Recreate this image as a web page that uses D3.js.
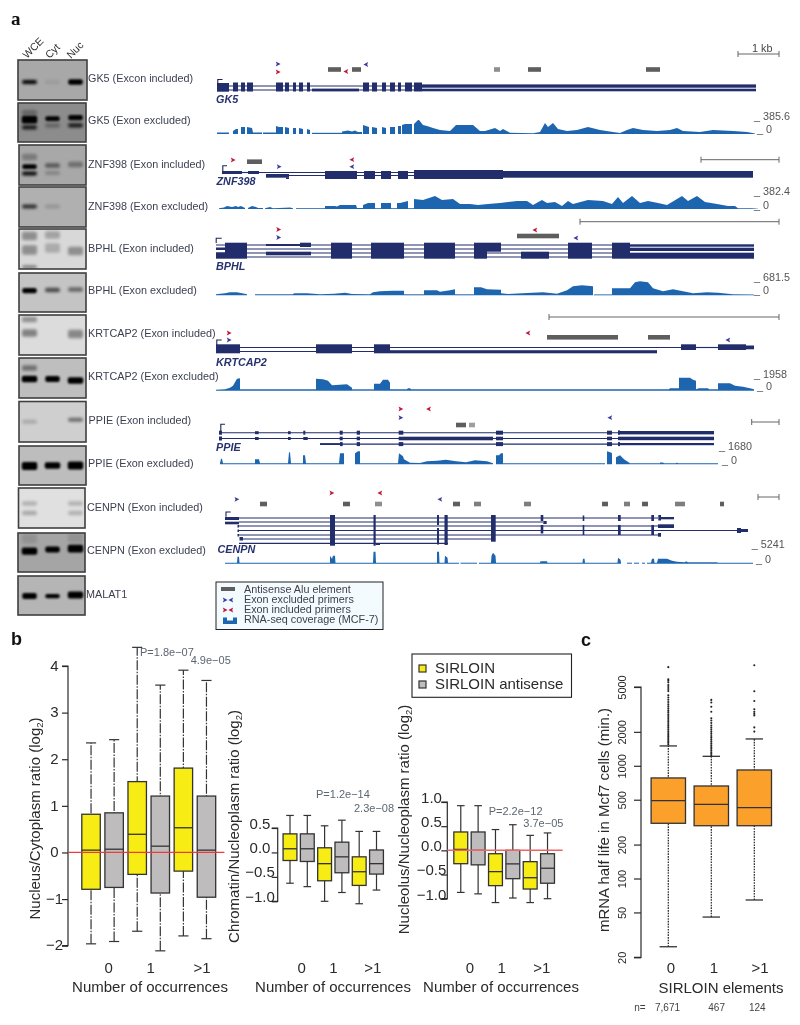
<!DOCTYPE html>
<html><head><meta charset="utf-8">
<script src="https://cdn.jsdelivr.net/npm/d3@7"></script>
<style>
html,body{margin:0;padding:0;background:#fff}
svg{display:block;filter:blur(0.4px)}
text{font-family:"Liberation Sans",Arial,sans-serif}
</style></head><body>
<svg id="c" width="800" height="1025"></svg>
<script>
// ---------- panel a: gels ----------
const gelLanes = ["WCE","Cyt","Nuc"];
const gelLabels = ["GK5 (Excon included)","GK5 (Exon excluded)","ZNF398 (Exon included)","ZNF398 (Exon excluded)","BPHL (Exon included)","BPHL (Exon excluded)","KRTCAP2 (Exon included)","KRTCAP2 (Exon excluded)","PPIE (Exon included)","PPIE (Exon excluded)","CENPN (Exon included)","CENPN (Exon excluded)","MALAT1"];
const gelBackground = [168,140,168,176,216,196,220,190,207,189,224,165,181];
// each band: lane, migration (0-40), intensity (0-1), thickness
const gelBands = [
 [[0,22,.8,2.6],[1,22,.05,3],[2,22,1,4.5]],
 [[0,17,1,6.5],[0,25,.6,2.8],[0,10,.2,4],[1,16,1,3.6],[1,23,.2,3],[2,15,1,4],[2,23,.6,2.8]],
 [[0,21.7,.95,3.6],[0,28.5,.7,2.6],[0,12,.2,5],[1,20.5,.35,3],[1,28,.15,2.5],[2,19.5,.25,4]],
 [[0,19.5,.55,2.6],[1,19.5,.1,3]],
 [[0,7,.25,7],[0,21,.25,8],[0,38,.3,2],[1,6,.18,6],[1,19,.15,8],[2,22,.25,7]],
 [[0,18,1,4],[1,17.5,.45,3],[2,17,.35,3]],
 [[0,4.5,.25,4],[0,18,.3,6],[2,19,.28,7]],
 [[0,10,.3,4],[0,21,1,5.5],[1,21,1,5],[2,22.5,1,5.5]],
 [[0,20,.13,2.6],[2,18,.35,2.6]],
 [[0,20.5,1,7],[1,20,1,5.5],[2,20,1,7]],
 [[0,15.5,.15,2.8],[0,25,.18,2.8],[2,15.5,.15,2.8],[2,25,.15,2.8]],
 [[0,18.5,1,6],[1,17,.95,4.8],[2,16,1,6.5],[0,6,.08,8],[2,5,.08,8]],
 [[0,20.5,1,5],[1,20.7,.9,3],[2,19.5,1,6]]
];

// ---------- panel a: gene models, positions along the track ----------
const gk5Lines = [[217,756,0],[217,756,4]];
const gk5Exons = [[217,229,-3,5.7],[233,238,-3.5,5.5],[241,245,-3.5,5.5],[247,253,-3.5,5.5],[276,283,-3.5,5.5],[285,289,-3.5,5.5],[293,296,-3.5,5.5],[299,303,-3.5,5.5],[307,310,-3.5,5.5],[312,359,2.6,5.4],[363,369,-3.5,5.5],[372,377,-3.5,5.5],[382,386,-3.5,5.5],[390,395,-3.5,5.5],[398,401,-3.5,5.5],[405,412,-3.5,5.5],[414,422,-3.5,5.5],[422,756,-1.6,1.7],[422,756,2.7,5.3]];
const gk5Alu = [[328,341,1],[352,361,1],[494,500,.7],[528,541,1],[646,660,1]];
const gk5Primers = [[278,64,1,0],[278,72,1,1],[346,71.5,-1,1],[366,64.5,-1,0]];
const gk5Cov = [
 [[217,1.5],[229,1.5]],[[233,3],[236,5],[238,5]],[[241,7],[245,7]],[[247,7],[252,6],[253,1.5],[262,1.5]],[[263,1.5],[276,1.5]],
 [[276,8],[279,7],[283,7]],[[285,7],[289,6]],[[293,6],[296,6]],[[299,6],[303,5]],[[307,5],[310,4]],[[312,1.2],[342,1.2]],
 [[342,2.5],[348,3.5],[352,2.5],[355,3.5],[358,2],[362,2]],[[363,9],[369,7]],[[372,7],[377,6]],[[382,7],[386,6]],[[390,7],[395,7]],[[398,8],[401,8]],
 [[402,9],[405,10],[412,10]],[[414,10],[418,14],[419,14],[423,9],[427,8],[433,6],[440,4],[450,3],[456,9],[473,9],[480,3],[485,3],[495,6],[500,3],[503,5],[510,1.2],[533,.8],[540,2],[545,11],[548,7],[553,11],[558,5],[567,3],[577,4],[588,7],[600,4],[613,2],[620,1],[627,4],[633,6],[643,4],[657,3],[670,4],[677,6],[683,3],[700,2],[713,4],[733,3],[747,2],[755,.5]]
];
const znfLines = [[242,248,0],[259,414,0],[289,414,3]];
const znfExons = [[222,242,-1.5,1.5],[248,259,-1.5,1.5],[266,289,1.5,5.2],[286,289,5,6.5],[325,357,-1.5,6.5],[364,375,-1.5,6.5],[381,391,-1.5,6.5],[398,408,-1.5,6.5],[414,503,-2.5,6.5],[503,753,-1.5,5.2]];
const znfAlu = [[247,262,1]];
const znfPrimers = [[233,160,1,1],[279,166.7,1,0],[352,159.7,-1,1],[352,166.7,-1,0]];
const znfCov = [
 [[219,.7],[224,1.5],[227,3],[232,2],[236,3],[238,2],[241,3],[245,1]],[[248,1],[252,3],[256,2],[258,1],[263,1]],[[265,.8],[270,2],[273,.8],[285,1.2],[290,1.5],[293,.8]],
 [[296,.8],[325,.8]],[[325,3],[335,3],[337,2.5],[340,4],[356,4],[357,1],[363,1]],[[363,4],[368,6],[375,6]],[[375,.8],[381,.8]],[[381,6],[391,6]],[[391,.8],[397,.8]],[[397,6],[400,6],[408,8]],[[408,.8],[414,.8]],
 [[414,10],[423,9],[435,13],[442,9],[453,10],[460,5],[470,5],[478,4],[488,5],[500,6],[517,8],[527,8],[533,4],[542,9],[547,6],[555,7],[562,3],[568,8],[573,5],[588,9],[603,8],[612,5],[618,12],[623,6],[632,13],[640,6],[648,8],[658,6],[667,4],[682,13],[688,8],[697,13],[705,7],[717,5],[728,3],[735,3],[738,.7],[752,.8],[758,.3]]
];
const bphlLines = [[216,630,0],[216,630,4],[216,630,8],[216,630,12]];
const bphlExons = [[216,225,2.5,5],[216,225,7.5,13.7],[225,247,-2.3,13.7],[266,300,-1,1],[300,311,-2.3,2],[266,311,6.7,10.3],[331,352,-2.3,13.7],[371,404,-2.3,13.7],[424,455,-2.3,13.7],[474,487,-2.3,13.7],[487,501,-2.3,6.7],[521,549,6.7,13.7],[568,592,-2.3,13.7],[612,630,-2.3,13.7],[630,754,-.7,1.7],[630,754,2.7,6],[630,754,7.7,13.7]];
const bphlAlu = [[517,559,1]];
const bphlPrimers = [[278.5,229.5,1,1],[278.5,237.5,1,0],[535,230,-1,1],[576,238,-1,0]];
const bphlCov = [
 [[216,1],[225,2],[230,3],[237,3],[242,2],[247,1]],
 [[255,1],[293,1],[294,2],[307,2],[320,1],[334,1.5],[345,2.5],[352,1.2],[370,1],[373,3],[380,4],[393,4.5],[404,4.5]],[[404,1],[424,1]],[[424,5],[437,5],[440,3.5],[450,5],[455,6]],[[455,1],[474,1]],
 [[474,8],[481,8],[487,6],[501,5.5]],[[501,2],[508,1.2],[522,2],[543,3],[557,1.5],[567,5],[573,9],[582,10],[593,9]],[[594,.9],[612,.9]],[[612,7],[622,7],[630,7],[635,13],[640,14],[648,13],[653,7],[663,4],[673,6],[683,4],[693,2],[707,3],[718,2.5],[733,1],[754,.8]]
];
const krtLines = [[216,681,0],[216,374,4],[696,718,0]];
const krtExons = [[216,240,-3.2,5.8],[316,352,-3.2,5.8],[374,390,-3.2,5.8],[390,657,2.7,5.8],[681,696,-3.2,2.5],[718,746,-3.2,2.5],[746,754,-2,1.8]];
const krtAlu = [[547,618,1],[648,670,1]];
const krtPrimers = [[229,333,1,1],[229,340,1,0],[528,333,-1,1],[728,340,-1,0]];
const krtCov = [
 [[216,1],[225,1.5],[230,3],[233,5],[237,12],[240,12.5]],[[240,1.4],[316,1.4]],[[316,12],[323,11.5],[328,10],[332,5.5],[347,6.5],[352,3]],[[352,1.4],[374,1.4]],[[374,7],[380,7],[383,11],[388,11],[390,8]],
 [[390,1.4],[407,1.4],[408,2.5],[410,2.5],[411,1.4],[669,1.4],[670,2.5],[679,2.5]],[[679,13],[690,13],[693,11],[696,10]],[[696,1.4],[699,2.5],[708,2.5],[709,1.4],[718,1.4]],[[718,7.5],[730,7.5],[735,5],[743,4],[750,2.5],[754,1.5]]
];
const ppieLines = [[219,618,0],[219,618,5.8],[320,618,11.4]];
const ppieExons = [[219,222,-2,2],[255,258.7,-1.5,1.5],[288,290.7,-1.5,1.5],[303.3,305.3,-2,2],[339.7,342.7,-2,2],[356.7,360,-2,2],[398.7,403.3,-2,2],[496,503,-2,2],[607,612,-2,2],[618,620,-2.3,2],[618,714,-1.7,1.7],
 [219,222,3.8,7.8],[255,258.7,4.3,7.3],[288,290.7,4.3,7.3],[303.3,307.7,4.3,7.3],[339.7,342.7,4,7.6],[356.7,360,4,7.6],[398.7,493,4,7.6],[496,503,4,7.6],[607,612,4,7.6],[618,714,4,7.5],
 [320,341,10.5,12.3],[340,342.7,9.4,13.4],[356.7,360,9.4,13.4],[398.7,403.3,9.4,13.4],[496,503,9.4,13.4],[607,612,9.4,13.4],[618,620,9.4,13.4],[620,714,10.3,12.5]];
const ppieAlu = [[456,466,1],[469,475,.6]];
const ppiePrimers = [[400.7,409,1,1],[400.7,417.7,1,0],[428.7,409,-1,1],[610,417.7,-1,0]];
const ppieCov = [
 [[220,1],[221,5.5],[222,5.5],[223,1],[255,1],[255,5],[259,5],[260,1],[288,1],[289,12],[290,12],[291,1],[303,1],[303,9],[305,9],[306,1],[339,1],[340,11],[344,11]],
 [[355,11],[358,13],[360,13],[360,1],[398,1],[399,11],[403,8],[404,5],[410,1.5],[420,1.2],[427,3],[437,3.5],[446,4.5],[456,3],[466,2],[475,4],[487,3],[493,1]],[[496,9],[499,9],[501,11],[503,11]],[[503,1],[605,1]],
 [[607,13],[610,12],[612,11]],[[616,7],[620,9],[624,5],[627,3],[630,1],[660,1],[660,1.7],[663,1.7],[664,1],[676,1],[677,1.8],[678,1],[718,1]]
];
const cenpnLines = [[239,658,0],[239,543,4],[239,658,8],[239,737,12.5],[239,658,17],[243,495,21],[239,448,25.3]];
const cenpnExons = [[225,239,-1,2],[225,239,3.7,6.3],[237.5,239,7,9.5],[237.5,239,11.5,14],[237.5,239,16,18.5],[239.5,243,19,22.5],[330,335,-3,27.7],[373.5,375.7,-3,27.7],[375.7,380,25,27],[437,439,-3,7],[437,439,10,26.5],[444.5,447.7,-3,27],[491,495.7,-3,23.7],[540.7,543.3,-3,3],[543.3,546.7,3,6],[540.7,543.3,7,15.5],[582.7,584.3,-2.5,3],[582.7,584.3,7,17],[618,620.7,-3,3],[618,620.7,7,17],[651.3,654,-3,3],[651.3,654,7,17],[658.3,661,-3,2.5],[661,674,-1,1.3],[658,674,6.3,10],[658,661,15,18.7],[737,741,10,15],[741,748,11,14]];
const cenpnAlu = [[260,267,1],[343,350,1],[375,382,.7],[453,460,1],[474,481,.8],[524,531,.8],[602,608,1],[624,630,.8],[642,648,1],[675,685,.8],[720,724,1]];
const cenpnPrimers = [[236.7,499.3,1,0],[331.7,493,1,1],[380,493,-1,1],[440,499.3,-1,0]];
const cenpnCov = [
 [[225,1],[237,1],[237.5,7],[239,7],[239.5,1],[330,1],[330,8],[332,5],[333,8],[335,8],[335.5,1],[373,1],[373.5,12],[375.5,12],[376,1],[437,1],[437,12],[439,12],[439.5,1],[444.5,1],[445,8],[447.5,6],[448,1],[459,1]],
 [[460.5,1],[477,1]],[[479,1],[491,1],[491.5,8],[493,11],[495.5,8],[496,1],[540,1],[540.5,2.5],[547,2.5],[547.5,1],[582.5,1],[583,5],[584.5,5],[585,1],[617.5,1],[618,6],[620.5,4],[621,1]],
 [[627,1],[632,1]],[[634,1],[639,1]],[[642,1],[645,1]],[[647,1],[651,1],[652,5],[654,5],[654.5,1],[657,1],[658,5],[667,5],[672,3],[677,2],[685,1.5],[686,2.5],[688,1.5],[717,1.5],[718,1],[753,1]]
];
const rowNames = ["GK5","ZNF398","BPHL","KRTCAP2","PPIE","CENPN"];
const rowMaxLabels = ["385.6","382.4","681.5","1958","1680","5241"];
const scaleBarLabel = "1 kb";
const legendLabels = ["Antisense Alu element","Exon excluded primers","Exon included primers","RNA-seq coverage (MCF-7)"];

// ---------- panel b: boxplots  [low, q1, median, q3, high] ----------
const occurrenceLabels = ["0","1",">1"];
const sirloinKinds = ["SIRLOIN","SIRLOIN antisense"];
const nucCytBoxes = [[-1.96,-.79,.05,.82,2.35],[-1.91,-.75,.07,.85,2.42],[-1.69,-.47,.39,1.52,4.4],[-2.11,-.87,.135,1.21,3.59],[-1.79,-.40,.53,1.81,3.91],[-1.85,-.96,.05,1.21,3.69]];
const chromNucBoxes = [[-.63,-.165,.075,.38,.757],[-.70,-.185,.075,.38,.757],[-1.0,-.58,-.23,.095,.545],[-.82,-.416,-.09,.21,.66],[-1.05,-.675,-.395,-.09,.43],[-.77,-.443,-.23,.05,.43]];
const nucleolBoxes = [[-.87,-.276,.02,.38,.924],[-.90,-.30,0,.38,.924],[-1.08,-.73,-.44,-.07,.43],[-.986,-.586,-.28,0,.53],[-1.08,-.80,-.566,-.234,.31],[-1.0,-.68,-.37,-.07,.36]];
const nucCytP = ["P=1.8e\u221207","4.9e\u221205"];
const chromNucP = ["P=1.2e\u221214","2.3e\u221208"];
const nucleolP = ["P=2.2e\u221212","3.7e\u221205"];

// ---------- panel c: mRNA half life ----------
const halfLifeLabels = ["0","1",">1"];
const halfLifeN = ["7,671","467","124"];
const halfLifeBoxes = [[24.8,309,491,780,1500],[45.5,294,455,662,1214],[64.5,294,425,918,1730]];
const halfLifeOut0 = [1550,1600,1650,1700,1760,1820,1880,1950,2020,2100,2180,2260,2350,2450,2550,2650,2760,2870,2990,3110,3240,3370,3520,3680,3850,4030,4230,4600,4800,5000,5200,5500,5700,5850,7500];
const halfLifeOut1 = [1240,1280,1320,1370,1420,1470,1520,1580,1640,1700,1770,1840,1920,2000,2090,2180,2280,2400,2520,2640,3020,3340,3640,3840];
const halfLifeOut2 = [2010,2190,2800,2900,3020,3170,3760,4580,7790];
const halfLifeTicks = [20,50,100,200,500,1000,2000,5000];

// ---------- layout & style ----------
const svg = d3.select("#c");
const INK="#2a2a2a", NAVY="#222d6c", COV="#1e65b0", GREY="#5e5e5e", LABEL="#3c3f50";
const defs = svg.append("defs");
[1.5,1.0].forEach((s,i)=>defs.append("filter").attr("id","blur"+i).attr("x","-30%").attr("y","-150%").attr("width","160%").attr("height","400%").append("feGaussianBlur").attr("stdDeviation",s));

function label(g,x,y,t,o={}){
  const e=g.append("text").attr("x",x).attr("y",y).text(t)
    .attr("font-size",o.size||10.8).attr("fill",o.fill||LABEL);
  if(o.anchor)e.attr("text-anchor",o.anchor);
  if(o.weight)e.attr("font-weight",o.weight);
  if(o.style)e.attr("font-style",o.style);
  if(o.rotate!==undefined)e.attr("transform",`rotate(${o.rotate} ${x} ${y})`);
  return e;
}
label(svg,11,25,"a",{size:19,weight:"bold",fill:"#111"}).style("font-family","Liberation Serif");
label(svg,11,645,"b",{size:18,weight:"bold",fill:"#111"});
label(svg,581,646,"c",{size:18,weight:"bold",fill:"#111"});

// gels
const gelBoxes=[[18,60,69,40],[18,103,68,39],[19,145,67,40],[19,187,67,40],[19,229,67,40],[19,273,67,39],[19,315,67,40],[19,358,67,40],[19,401.5,67,40.5],[19,446,67,39],[18.5,488,66.5,40],[18,533,67,39],[18,576,67,39]];
const gelLabelY=[82,124,168,210,252,294,337,380,424,467,511,554,598];
const laneX=d3.scalePoint().domain([0,1,2]).range([29.5,75.5]);
gelBoxes.forEach((b,i)=>{
  const g=svg.append("g");
  const bg=gelBackground[i];
  const migr=d3.scaleLinear().domain([0,40]).range([b[1],b[1]+b[3]]);
  const cid="gelclip"+i;
  defs.append("clipPath").attr("id",cid).append("rect").attr("x",b[0]).attr("y",b[1]).attr("width",b[2]).attr("height",b[3]);
  g.append("rect").attr("x",b[0]).attr("y",b[1]).attr("width",b[2]).attr("height",b[3]).attr("fill",`rgb(${bg},${bg},${bg})`);
  const inner=g.append("g").attr("clip-path",`url(#${cid})`);
  gelBands[i].forEach(([lane,m,a,th])=>{
    const strong=a>.8;
    const w=strong?(th>5?15.5:14.5):15;
    const t=strong?th+1.2:th+1.5;
    inner.append("rect").attr("x",laneX(lane)-w/2).attr("y",migr(m)-t/2).attr("width",w).attr("height",t).attr("rx",2)
      .attr("fill","#050505").attr("opacity",strong?1:Math.min(1,a*1.35)).attr("filter",`url(#blur${strong?1:0})`);
  });
  g.append("rect").attr("x",b[0]).attr("y",b[1]).attr("width",b[2]).attr("height",b[3]).attr("fill","none").attr("stroke","#3f3f3f").attr("stroke-width",1.6);
  label(svg,88+(i==8?.5:0)-(i>=10?1:0)-(i==12?1:0),gelLabelY[i],gelLabels[i]);
});
const laneLabelX=[27,49.5,71];
gelLanes.forEach((t,i)=>label(svg,laneLabelX[i],59,t,{size:10.5,rotate:-45,fill:"#333"}));

// gene tracks
const xT=d3.scaleLinear().domain([200,800]).range([200,800]);
const rows=[
 {lines:gk5Lines,exons:gk5Exons,alu:gk5Alu,primers:gk5Primers,cov:gk5Cov,base:86,aluY:69.5,covY:134,nameX:216,nameY:103,tss:[217.8,86,79.5,222.5],bar:[738,54],mx:[754,120],zx:[757,133]},
 {lines:znfLines,exons:znfExons,alu:znfAlu,primers:znfPrimers,cov:znfCov,base:172.5,aluY:161.7,covY:209,nameX:216.5,nameY:185,tss:[222.8,171,165.7,227],bar:[701,159.7],mx:[754,195],zx:[754,209]},
 {lines:bphlLines,exons:bphlExons,alu:bphlAlu,primers:bphlPrimers,cov:bphlCov,base:245,aluY:236,covY:295.3,nameX:216,nameY:269.5,tss:[216.2,243,238.3,221.7],bar:[580,221.7],mx:[754,281],zx:[754,294]},
 {lines:krtLines,exons:krtExons,alu:krtAlu,primers:krtPrimers,cov:krtCov,base:347.5,aluY:337.3,covY:390.7,nameX:216,nameY:366,tss:[216.8,345,340,221.7],bar:[549,317],mx:[754,378],zx:[757,390]},
 {lines:ppieLines,exons:ppieExons,alu:ppieAlu,primers:ppiePrimers,cov:ppieCov,base:432.7,aluY:425,covY:464.3,nameX:216,nameY:451,tss:[220.8,431,424.3,225],bar:[751.7,422],mx:[719,450],zx:[722,464]},
 {lines:cenpnLines,exons:cenpnExons,alu:cenpnAlu,primers:cenpnPrimers,cov:cenpnCov,base:518,aluY:504,covY:563.7,nameX:217.5,nameY:553,tss:[226,516.7,512,230.7],bar:[758,497],mx:[751.7,548],zx:[756,563]}
];
const primerColor=["#3b3b9c","#c0173c"];
const primerPath="M-2.2,-2.4L2.6,0L-2.2,2.4L-1.2,0Z";
function drawPrimer(g,x,y,dir,kind){
  g.append("path").attr("d",primerPath).attr("transform",`translate(${x},${y}) scale(${dir},1)`).attr("fill",primerColor[kind]);
}
rows.forEach((r,i)=>{
  const g=svg.append("g");
  const yG=d3.scaleLinear().domain([0,30]).range([r.base,r.base+30]);
  r.lines.forEach(([a,b,o])=>g.append("line").attr("x1",xT(a)).attr("x2",xT(b)).attr("y1",yG(o)).attr("y2",yG(o)).attr("stroke",NAVY).attr("stroke-width",1.15));
  g.selectAll(null).data(r.exons).join("rect")
    .attr("x",d=>xT(d[0])).attr("width",d=>xT(d[1])-xT(d[0]))
    .attr("y",d=>yG(d[2])).attr("height",d=>yG(d[3])-yG(d[2])).attr("fill",NAVY);
  const [tx,ty0,ty1,tx2]=r.tss;
  g.append("path").attr("d",`M${tx},${ty0}V${ty1}H${tx2}`).attr("fill","none").attr("stroke","#1c2450").attr("stroke-width",1.1);
  label(g,r.nameX,r.nameY,rowNames[i],{weight:"bold",style:"italic",fill:"#26316e"});
  g.selectAll(null).data(r.alu).join("rect")
    .attr("x",d=>xT(d[0])).attr("width",d=>xT(d[1])-xT(d[0]))
    .attr("y",r.aluY-2.3).attr("height",4.6).attr("fill",GREY).attr("opacity",d=>d[2]);
  r.primers.forEach(p=>drawPrimer(g,xT(p[0]),p[1],p[2],p[3]));
  // scale bar
  const [bx,by]=r.bar;
  g.append("path").attr("d",`M${bx},${by-3}V${by+3}M${bx},${by}H779M779,${by-3}V${by+3}`).attr("stroke","#666").attr("stroke-width",1).attr("fill","none");
  // coverage
  const yC=d3.scaleLinear().domain([0,20]).range([r.covY,r.covY-20]);
  const area=d3.area().x(d=>xT(d[0])).y0(yC(0)).y1(d=>yC(d[1]));
  g.selectAll(null).data(r.cov).join("path").attr("d",area).attr("fill",COV);
  label(g,r.mx[0],r.mx[1],"_ "+rowMaxLabels[i],{fill:"#555"});
  label(g,r.zx[0],r.zx[1],"_ 0",{fill:"#555"});
});
label(svg,752,52,scaleBarLabel,{fill:"#444"});

// legend a
const lg=svg.append("g");
lg.append("rect").attr("x",216).attr("y",582).attr("width",167).attr("height",47.5).attr("fill","#f3fbff").attr("stroke","#222").attr("stroke-width",1);
const legendY=[593,603,613,623];
legendLabels.forEach((t,i)=>label(lg,244,legendY[i],t,{fill:"#3d3f4a"}));
lg.append("rect").attr("x",221).attr("y",587).attr("width",14).attr("height",4).attr("fill",GREY);
[[225,600,1,0],[231,600,-1,0],[225,610,1,1],[231,610,-1,1]].forEach(p=>drawPrimer(lg,p[0],p[1],p[2],p[3]));
lg.append("path").attr("d","M223,617.5H227V620.5H233V617.5H237V624H223Z").attr("fill",COV);

// panel b
const YEL="#f7ed14", GRY="#bebcbc", BORDER="#333";
function boxPanel(o){
  const g=svg.append("g");
  const y=d3.scaleLinear().domain(o.domain).range(o.yRange);
  const x=d3.scaleBand().domain(d3.range(o.boxes.length)).range(o.xRange).paddingInner(.2).paddingOuter(.1);
  const ax=g.append("g").attr("transform",`translate(${o.axisX},0)`)
    .call(d3.axisLeft(y).tickValues(o.ticks).tickFormat(d3.format(o.fmt)).tickSize(6).tickSizeOuter(0));
  ax.select(".domain").attr("stroke",INK).attr("stroke-width",1.2).attr("d",`M-6,${o.yRange[1]}H0V${o.yRange[0]}H-6`);
  ax.selectAll(".tick line").attr("stroke",INK).attr("stroke-width",1.2);
  ax.selectAll(".tick text").attr("font-size",15).attr("font-family","Liberation Sans").attr("fill",INK)
    .attr("text-anchor","middle").attr("x",o.tickTextX-o.axisX).attr("dy",o.tickDy);
  const cap=x.bandwidth()*o.capFrac;
  o.boxes.forEach((b,i)=>{
    const cx=x(i)+x.bandwidth()/2, f=i%2?GRY:YEL;
    const wh=g.append("g").attr("stroke",BORDER).attr("stroke-width",1.2);
    wh.append("line").attr("x1",cx).attr("x2",cx).attr("y1",y(b[0])).attr("y2",y(b[4])).attr("stroke-dasharray",o.dash);
    [b[0],b[4]].forEach(v=>wh.append("line").attr("x1",cx-cap/2).attr("x2",cx+cap/2).attr("y1",y(v)).attr("y2",y(v)));
    g.append("rect").attr("x",x(i)).attr("width",x.bandwidth()).attr("y",y(b[3])).attr("height",y(b[1])-y(b[3])).attr("fill",f).attr("stroke",BORDER).attr("stroke-width",1.3);
    g.append("line").attr("x1",x(i)).attr("x2",x(i)+x.bandwidth()).attr("y1",y(b[2])).attr("y2",y(b[2])).attr("stroke",BORDER).attr("stroke-width",1.3);
  });
  g.append("line").attr("x1",o.axisX).attr("x2",o.redEnd).attr("y1",y(0)).attr("y2",y(0)).attr("stroke",o.red).attr("stroke-width",o.redW);
  occurrenceLabels.forEach((t,i)=>label(g,o.catX[i],973,t,{size:15,anchor:"middle",fill:INK}));
  label(g,o.titleX,992,"Number of occurrences",{size:15,anchor:"middle",fill:INK});
  const yt=g.append("text").attr("transform",`translate(${o.ytX},${o.ytY}) rotate(-90)`).attr("text-anchor","middle").attr("font-size",o.ytSize||15).attr("fill",INK);
  yt.append("tspan").text(o.yTitle+" (log");
  yt.append("tspan").text("2").attr("font-size",9.5).attr("dy",3);
  yt.append("tspan").text(")").attr("dy",-3);
  o.p.forEach((t,i)=>label(g,o.pPos[i][0],o.pPos[i][1],t,{size:11,fill:"#5b6672"}));
}
boxPanel({boxes:nucCytBoxes,domain:[-2,4],yRange:[945.7,666],xRange:[79.5,218],axisX:68,ticks:[-2,-1,0,1,2,3,4],fmt:"d",tickTextX:54.5,tickDy:"0.28em",
  capFrac:.55,dash:"10,1.5,1.5,1.5",redEnd:224.4,red:"#ee3a3a",redW:1.2,catX:[108.7,150.7,202],titleX:150,ytX:39.5,ytY:818.5,yTitle:"Nucleus/Cytoplasm ratio",p:nucCytP,pPos:[[140,655.5],[190.7,663.5]]});
boxPanel({boxes:chromNucBoxes,domain:[-1,.5],yRange:[901.3,828],xRange:[281.35,385.15],axisX:277.7,ticks:[-1,-.5,0,.5],fmt:".1f",tickTextX:260,tickDy:"0",
  capFrac:.55,dash:null,redEnd:277.7,red:"none",redW:0,catX:[301.7,333.3,372.7],titleX:333,ytX:239,ytY:826.5,yTitle:"Chromatin/Nucleoplasm ratio",p:chromNucP,pPos:[[316,798],[354,812]]});
boxPanel({boxes:nucleolBoxes,domain:[-1,1],yRange:[898.7,802],xRange:[452.1,556.2],axisX:447.3,ticks:[-1,-.5,0,.5,1],fmt:".1f",tickTextX:431.5,tickDy:"0.02em",
  capFrac:.55,dash:null,redEnd:562.7,red:"#f06464",redW:1.5,catX:[470,501.7,541.7],titleX:501,ytX:409,ytY:819.5,yTitle:"Nucleolus/Nucleoplasm ratio",p:nucleolP,pPos:[[488.7,815],[523.3,826.5]]});

// legend b
const lb=svg.append("g");
lb.append("rect").attr("x",412).attr("y",654).attr("width",159.5).attr("height",43.3).attr("fill","#fff").attr("stroke","#222").attr("stroke-width",1.1);
sirloinKinds.forEach((t,i)=>{
  const yy=[665,681][i];
  lb.append("rect").attr("x",419).attr("y",yy).attr("width",7).attr("height",7).attr("fill",i?GRY:YEL).attr("stroke",BORDER).attr("stroke-width",1.2);
  label(lb,435,yy+7.5,t,{size:15,fill:INK});
});

// panel c
(function(){
  const g=svg.append("g");
  const y=d3.scaleLog().domain([20,5000]).range([957.3,687]);
  const x=d3.scaleBand().domain(d3.range(3)).range([646.8,775.8]).paddingInner(.2).paddingOuter(.1);
  const ax=g.append("g").attr("transform","translate(641,0)").call(d3.axisLeft(y).tickValues(halfLifeTicks).tickFormat(d3.format("d")).tickSize(7).tickSizeOuter(0));
  ax.select(".domain").attr("stroke",INK).attr("stroke-width",1.2).attr("d","M-7,687H0V957.3H-7");
  ax.selectAll(".tick line").attr("stroke",INK).attr("stroke-width",1.2);
  ax.selectAll(".tick text").attr("font-size",11).attr("font-family","Liberation Sans").attr("fill",INK)
    .attr("text-anchor","middle").attr("dy",0).attr("x",0).attr("transform","translate(-15,0) rotate(-90)");
  const outs=[halfLifeOut0,halfLifeOut1,halfLifeOut2];
  halfLifeBoxes.forEach((b,i)=>{
    const cx=x(i)+x.bandwidth()/2;
    g.append("line").attr("x1",cx).attr("x2",cx).attr("y1",y(b[0])).attr("y2",y(b[4])).attr("stroke","#222").attr("stroke-width",1.2).attr("stroke-dasharray","1.6,1.1");
    [b[0],b[4]].forEach(v=>g.append("line").attr("x1",cx-8.7).attr("x2",cx+8.7).attr("y1",y(v)).attr("y2",y(v)).attr("stroke","#222").attr("stroke-width",1.2));
    g.append("rect").attr("x",x(i)).attr("width",x.bandwidth()).attr("y",y(b[3])).attr("height",y(b[1])-y(b[3])).attr("fill","#fba02b").attr("stroke",BORDER).attr("stroke-width",1.3);
    g.append("line").attr("x1",x(i)).attr("x2",x(i)+x.bandwidth()).attr("y1",y(b[2])).attr("y2",y(b[2])).attr("stroke",BORDER).attr("stroke-width",1.3);
    g.selectAll(null).data(outs[i]).join("circle").attr("cx",cx).attr("cy",d=>y(d)).attr("r",1.05).attr("fill","#222");
  });
  [671,714,760].forEach((px,i)=>label(g,px,973,halfLifeLabels[i],{size:15,anchor:"middle",fill:INK}));
  label(g,721,993,"SIRLOIN elements",{size:15,anchor:"middle",fill:INK});
  g.append("text").attr("transform","translate(609,820) rotate(-90)").attr("text-anchor","middle").attr("font-size",15).attr("fill",INK).text("mRNA half life in Mcf7 cells (min.)");
  label(g,634.3,1011,"n=",{size:10,fill:"#444"});
  [655,708.3,749].forEach((px,i)=>label(g,px,1011,halfLifeN[i],{size:10,fill:"#444"}));
})();
</script>
</body></html>
